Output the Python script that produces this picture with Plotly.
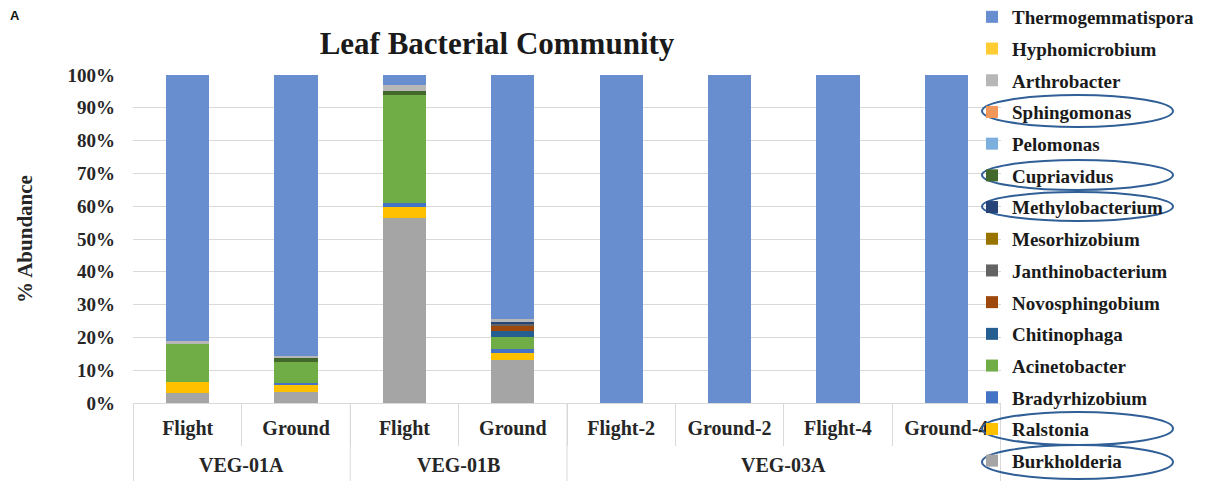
import plotly.graph_objects as go

# ---------------- data ----------------
groups = ["VEG-01A", "VEG-01A", "VEG-01B", "VEG-01B", "VEG-03A", "VEG-03A", "VEG-03A", "VEG-03A"]
samples = ["Flight", "Ground", "Flight", "Ground", "Flight-2", "Ground-2", "Flight-4", "Ground-4"]

# stacking order bottom -> top
taxa = ["Burkholderia", "Ralstonia", "Bradyrhizobium", "Acinetobacter", "Chitinophaga",
        "Novosphingobium", "Janthinobacterium", "Mesorhizobium", "Methylobacterium",
        "Cupriavidus", "Pelomonas", "Sphingomonas", "Arthrobacter", "Hyphomicrobium",
        "Thermogemmatispora"]

burkholderia = [3.0, 3.5, 56.3, 13.1, 0, 0, 0, 0]
ralstonia = [3.5, 2.0, 3.5, 2.0, 0, 0, 0, 0]
bradyrhizobium = [0.0, 0.7, 1.3, 1.4, 0, 0, 0, 0]
acinetobacter = [11.7, 6.4, 32.8, 3.5, 0, 0, 0, 0]
chitinophaga = [0.0, 0.0, 0.0, 2.0, 0, 0, 0, 0]
novosphingobium = [0.0, 0.0, 0.0, 1.7, 0, 0, 0, 0]
janthinobacterium = [0.0, 0.0, 0.0, 0.3, 0, 0, 0, 0]
mesorhizobium = [0.0, 0.0, 0.0, 0.0, 0, 0, 0, 0]
methylobacterium = [0.0, 0.0, 0.0, 0.8, 0, 0, 0, 0]
cupriavidus = [0.0, 1.2, 1.3, 0.0, 0, 0, 0, 0]
pelomonas = [0.0, 0.0, 0.0, 0.0, 0, 0, 0, 0]
sphingomonas = [0.0, 0.0, 0.0, 0.1, 0, 0, 0, 0]
arthrobacter = [0.6, 0.5, 1.7, 0.6, 0, 0, 0, 0]
hyphomicrobium = [0.0, 0.0, 0.0, 0.0, 0, 0, 0, 0]
thermogemmatispora = [81.2, 85.7, 3.1, 74.5, 100, 100, 100, 100]

values = [burkholderia, ralstonia, bradyrhizobium, acinetobacter, chitinophaga,
          novosphingobium, janthinobacterium, mesorhizobium, methylobacterium,
          cupriavidus, pelomonas, sphingomonas, arthrobacter, hyphomicrobium,
          thermogemmatispora]

colors = ["#A5A5A5", "#FFC000", "#4472C4", "#70AD47", "#255E91",
          "#9E480E", "#636363", "#997300", "#264478",
          "#43682B", "#7CAFDD", "#F1975A", "#B7B7B7", "#FFCD33",
          "#698ED0"]

y_ticks = [0, 10, 20, 30, 40, 50, 60, 70, 80, 90, 100]
y_tick_labels = ["0%", "10%", "20%", "30%", "40%", "50%", "60%", "70%", "80%", "90%", "100%"]

# ellipse pixel boxes (x0, y0, x1, y1) in page pixels around circled legend entries
circle_boxes = [(982, 95, 1173, 127), (982, 160, 1173, 190), (982, 192, 1173, 221),
                (982, 412, 1173, 445), (982, 445, 1173, 479)]

# ---------------- figure ----------------
OFF = 8  # default page body margin
W, H = 1220 - OFF, 481 - OFF
PL, PR, PT, PB = 133, 1001, 75, 403  # plot area in page pixels
ML, MR, MT, MB = PL - OFF, W - (PR - OFF), PT - OFF, H - (PB - OFF)
serif = "Liberation Serif"
grid_col = "#D9D9D9"

x_keys = [f"{g} {s}" for g, s in zip(groups, samples)]

fig = go.Figure()
n = len(taxa)
for i, (name, vals, col) in enumerate(zip(taxa, values, colors)):
    fig.add_trace(go.Bar(
        x=x_keys, y=vals, name=name,
        marker=dict(color=col, line=dict(width=0)),
        legendgroup=name, legendrank=n - i,
    ))

pw = W - ML - MR
ph = H - MT - MB
def px2paper_x(px):
    return (px - OFF - ML) / pw
def px2paper_y(py):
    return (H - MB - (py - OFF)) / ph

shapes = []
for (x0, y0, x1, y1) in circle_boxes:
    shapes.append(dict(type="circle", xref="paper", yref="paper",
                       x0=px2paper_x(x0), x1=px2paper_x(x1),
                       y0=px2paper_y(y1), y1=px2paper_y(y0),
                       line=dict(color="#2F5F96", width=2), layer="above"))

# group dividers and group labels (from the group membership of the categories)
annotations = []
bounds = [0] + [i for i in range(1, len(groups)) if groups[i] != groups[i - 1]] + [len(groups)]
for b in bounds:
    shapes.append(dict(type="line", xref="x", yref="paper", x0=b - 0.5, x1=b - 0.5,
                       y0=0, y1=px2paper_y(481), line=dict(color=grid_col, width=1),
                       layer="below"))
for a, b in zip(bounds[:-1], bounds[1:]):
    annotations.append(dict(text=groups[a], xref="x", yref="paper", x=(a + b - 1) / 2,
                            y=px2paper_y(465), yanchor="middle", xanchor="center",
                            showarrow=False,
                            font=dict(family=serif, size=20, color="#262626", weight="bold")))
annotations.append(dict(text="A", xref="paper", yref="paper", x=px2paper_x(8), xanchor="left",
                        y=px2paper_y(15), yanchor="middle", showarrow=False,
                        font=dict(family="Liberation Sans", size=13, color="#111", weight="bold")))

fig.update_layout(
    width=W, height=H,
    margin=dict(l=ML, r=MR, t=MT, b=MB, autoexpand=False),
    paper_bgcolor="white", plot_bgcolor="white",
    barmode="stack", bargap=0.6,
    font=dict(family=serif, size=18, color="#262626", weight="bold"),
    title=dict(text="Leaf Bacterial Community", x=(497 - OFF) / W, xanchor="center",
               y=1 - (43 - OFF) / H, yanchor="middle",
               font=dict(family=serif, size=31, color="#1a1a1a", weight="bold")),
    legend=dict(x=px2paper_x(972), xanchor="left", y=px2paper_y(-2), yanchor="top",
                traceorder="grouped", tracegroupgap=4.0, maxheight=2000,
                font=dict(family=serif, size=19, color="#1a1a1a", weight="bold"),
                itemwidth=30, bgcolor="rgba(0,0,0,0)"),
    shapes=shapes,
    annotations=annotations,
)

fig.update_yaxes(range=[0, 100], tickvals=y_ticks, ticktext=y_tick_labels,
                 showgrid=True, gridcolor=grid_col, gridwidth=1,
                 zeroline=False, showline=False, ticks="",
                 ticklabelstandoff=17,
                 tickfont=dict(family=serif, size=19, color="#262626", weight="bold"),
                 title=dict(text="% Abundance", standoff=29,
                            font=dict(family=serif, size=21, color="#262626", weight="bold")))

fig.update_xaxes(type="category", categoryorder="array", categoryarray=x_keys,
                 tickvals=x_keys, ticktext=samples,
                 showline=True, linecolor=grid_col, linewidth=1,
                 ticks="outside", tickson="boundaries", ticklen=42, tickcolor=grid_col, tickwidth=1,
                 ticklabelstandoff=7,
                 showgrid=False,
                 tickfont=dict(family=serif, size=20, color="#262626", weight="bold"))

fig.write_html("out.html")
